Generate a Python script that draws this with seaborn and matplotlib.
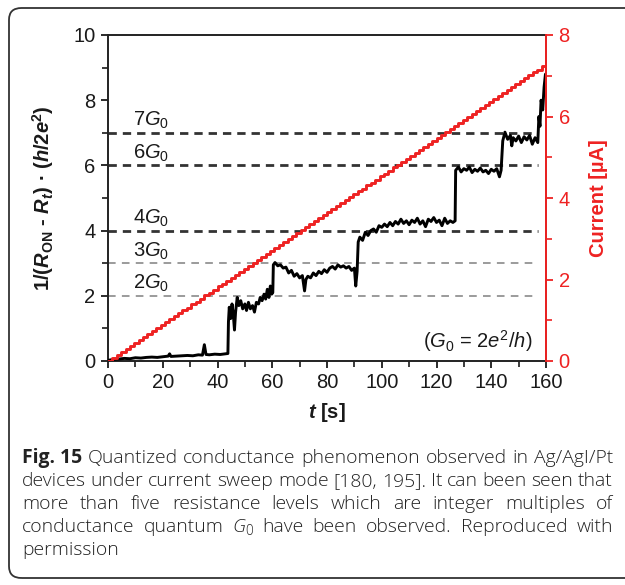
import numpy as np
import pandas as pd
import matplotlib
matplotlib.use("Agg")
import matplotlib.pyplot as plt
import seaborn as sns
from matplotlib.patches import FancyBboxPatch
from matplotlib.ticker import MultipleLocator

# ---------------- data ----------------
time_s = [0, 2, 4, 6, 8, 10, 12, 14, 16, 18, 20, 22, 22.5, 23, 25, 27, 29, 31, 33, 34.5,
          35.2, 35.8, 37, 39, 41, 43, 43.8, 44.0, 44.3, 44.8, 45.3, 45.8, 46.2, 46.6, 47.2,
          47.8, 48.5, 49.2, 50, 50.6, 51.3, 52, 52.8, 53.5, 54.2, 55, 55.6, 56.3, 57, 57.6,
          58.2, 58.8, 59.3, 59.8, 60.2, 60.4, 61, 62, 63, 64, 65, 66, 67, 68, 69, 70, 71,
          71.8, 72.3, 73, 74, 75, 76, 77, 78, 79, 80, 81, 82, 83, 84, 85, 86, 87, 88, 89,
          90, 90.5, 91, 91.4, 92, 93, 94, 95, 96, 97, 98, 99, 100, 101, 102, 103, 104, 105,
          106, 107, 108, 109, 110, 111, 112, 113, 114, 115, 116, 117, 118, 119, 120, 121,
          122, 123, 124, 125, 126, 126.8, 127.0, 128, 129, 130, 131, 132, 133, 134, 135,
          136, 137, 138, 139, 140, 141, 142, 143, 143.6, 144.2, 145, 146, 147, 147.5, 148,
          149, 150, 151, 152, 153, 154, 155, 156, 157, 157.4, 157.8, 158.2, 158.8, 159.3,
          159.8]
conductance = [0.02, 0.05, 0.06, 0.08, 0.07, 0.10, 0.09, 0.11, 0.12, 0.11, 0.13, 0.15, 0.22,
               0.14, 0.15, 0.16, 0.17, 0.16, 0.19, 0.18, 0.50, 0.20, 0.19, 0.21, 0.20, 0.22,
               0.23, 1.20, 1.65, 1.30, 1.75, 1.40, 0.95, 1.50, 1.95, 1.70, 1.85, 1.60, 1.75,
               1.55, 1.80, 1.60, 1.70, 1.50, 1.80, 1.75, 1.95, 1.85, 2.05, 1.90, 2.20, 1.95,
               2.30, 2.05, 2.10, 2.95, 3.02, 2.92, 2.95, 2.85, 2.88, 2.70, 2.78, 2.60, 2.68,
               2.55, 2.62, 2.15, 2.50, 2.60, 2.55, 2.70, 2.62, 2.75, 2.68, 2.80, 2.72, 2.85,
               2.90, 2.82, 2.95, 2.88, 2.92, 2.85, 2.90, 2.78, 2.85, 2.30, 2.75, 3.65, 3.80,
               3.70, 3.95, 3.85, 4.00, 4.05, 3.95, 4.15, 4.10, 4.20, 4.12, 4.25, 4.15, 4.28,
               4.20, 4.35, 4.22, 4.30, 4.18, 4.32, 4.25, 4.38, 4.20, 4.30, 4.12, 4.35, 4.28,
               4.40, 4.25, 4.32, 4.15, 4.38, 4.22, 4.30, 4.25, 4.30, 5.85, 5.95, 5.80, 5.90,
               5.85, 5.95, 5.78, 5.88, 5.82, 5.92, 5.80, 5.85, 5.75, 5.88, 5.82, 5.90, 5.65,
               5.85, 6.75, 7.02, 6.80, 6.92, 6.60, 6.85, 6.75, 6.90, 6.70, 6.88, 6.78, 6.92,
               6.65, 6.85, 6.70, 7.50, 7.20, 8.00, 7.70, 8.40, 8.80]

current_uA = [0.00, 0.07, 0.15, 0.22, 0.29, 0.37, 0.44, 0.51, 0.58, 0.66, 0.73, 0.80, 0.88,
              0.95, 1.02, 1.10, 1.17, 1.24, 1.31, 1.39, 1.46, 1.53, 1.61, 1.68, 1.75, 1.83,
              1.90, 1.97, 2.04, 2.12, 2.19, 2.26, 2.34, 2.41, 2.48, 2.56, 2.63, 2.70, 2.77,
              2.85, 2.92, 2.99, 3.07, 3.14, 3.21, 3.29, 3.36, 3.43, 3.50, 3.58, 3.65, 3.72,
              3.80, 3.87, 3.94, 4.02, 4.09, 4.16, 4.23, 4.31, 4.38, 4.45, 4.53, 4.60, 4.67,
              4.75, 4.82, 4.89, 4.96, 5.04, 5.11, 5.18, 5.26, 5.33, 5.40, 5.48, 5.55, 5.62,
              5.69, 5.77, 5.84, 5.91, 5.99, 6.06, 6.13, 6.21, 6.28, 6.35, 6.42, 6.50, 6.57,
              6.64, 6.72, 6.79, 6.86, 6.94, 7.01, 7.08, 7.15, 7.23, 7.30]
step_duration_s = 1.6

level_values = [7, 6, 4, 3, 2]
level_labels = [r"$7\mathit{G}_{0}$", r"$6\mathit{G}_{0}$", r"$4\mathit{G}_{0}$",
                r"$3\mathit{G}_{0}$", r"$2\mathit{G}_{0}$"]
level_strong = [True, True, True, False, False]

caption_lines = [
    [("Fig. 15", "bold"), "Quantized", "conductance", "phenomenon", "observed", "in", "Ag/AgI/Pt"],
    ["devices", "under", "current", "sweep", "mode", "[180,", "195].", "It", "can", "been", "seen", "that"],
    ["more", "than", "five", "resistance", "levels", "which", "are", "integer", "multiples", "of"],
    ["conductance", "quantum", ("G0", "g0"), "have", "been", "observed.", "Reproduced", "with"],
    ["permission"],
]

# ---------------- style ----------------
sns.set_style("ticks")
plt.rcParams["font.family"] = ["Liberation Sans", "DejaVu Sans"]
plt.rcParams["mathtext.fontset"] = "custom"
plt.rcParams["mathtext.rm"] = "Liberation Sans"
plt.rcParams["mathtext.it"] = "Liberation Sans:italic"
plt.rcParams["mathtext.bf"] = "Liberation Sans:bold"
plt.rcParams["mathtext.bfit"] = "Liberation Sans:italic:bold"
plt.rcParams["mathtext.sf"] = "Liberation Sans"
plt.rcParams["lines.scale_dashes"] = False

W, H = 625, 585
RED = "#ee2222"
INK = "#1a1a1a"
FS = 14.5
fig = plt.figure(figsize=(W / 100, H / 100), dpi=100)
ax_l, ax_r, ax_t, ax_b = 108, 546, 35, 361
ax = fig.add_axes([ax_l / W, 1 - ax_b / H, (ax_r - ax_l) / W, (ax_b - ax_t) / H])

df_g = pd.DataFrame({"t": time_s, "G": conductance})
t_sweep = np.arange(len(current_uA)) * step_duration_s
df_i = pd.DataFrame({"t": t_sweep, "I": current_uA})

# reference levels
for val, lab, strong in zip(level_values, level_labels, level_strong):
    if strong:
        ax.hlines(val, 0, 157, colors="#333333", linewidth=2.0, linestyles=(0, (6.0, 4.3)), zorder=1)
    else:
        ax.hlines(val, 0, 157, colors="#8a8a8a", linewidth=1.2, linestyles=(0, (5.5, 4.5)), zorder=1)
    ax.text(9.0, val + 0.04, lab, fontsize=FS, color=INK, ha="left", va="bottom")

sns.lineplot(data=df_g, x="t", y="G", ax=ax, color="black", linewidth=2.1,
             estimator=None, sort=False, zorder=3)

ax.set_xlim(0, 160)
ax.set_ylim(0, 10)
ax.xaxis.set_major_locator(MultipleLocator(20))
ax.xaxis.set_minor_locator(MultipleLocator(10))
ax.yaxis.set_major_locator(MultipleLocator(2))
ax.yaxis.set_minor_locator(MultipleLocator(1))
ax.tick_params(axis="both", which="major", direction="out", length=5, width=1.3,
               labelsize=FS, colors=INK, pad=4)
ax.tick_params(axis="both", which="minor", direction="out", length=4, width=1.2, colors=INK)
for s in ax.spines.values():
    s.set_linewidth(1.4)
    s.set_color("#222222")

ax.set_xlabel(r"$\mathbfit{t}$ [s]", fontsize=FS, fontweight="bold", color=INK)
ax.set_ylabel(r"1/($\mathbfit{R}_{\mathbf{ON}}$ - $\mathbfit{R}_{\mathbfit{t}}$) · ($\mathbfit{h}$/2$\mathbfit{e}^{\mathbf{2}}$)",
              fontsize=FS, fontweight="bold", color=INK)
ax.xaxis.set_label_coords(0.5, -0.122)
ax.yaxis.set_label_coords(-0.118, 0.5)

ax.text(155, 0.62, r"($\mathit{G}_{\mathit{0}}$ = 2$\mathit{e}^{2}$/$\mathit{h}$)", fontsize=FS,
        color=INK, ha="right", va="center")

# current axis
ax2 = ax.twinx()
sns.lineplot(data=df_i, x="t", y="I", ax=ax2, color=RED, linewidth=2.1,
             estimator=None, sort=False, drawstyle="steps-post", zorder=4)
ax2.set_ylim(0, 8)
ax2.set_xlim(0, 160)
ax2.yaxis.set_major_locator(MultipleLocator(2))
ax2.yaxis.set_minor_locator(MultipleLocator(1))
ax2.tick_params(axis="y", which="major", direction="out", length=5, width=1.3,
                labelsize=FS, colors=RED, pad=4)
ax2.tick_params(axis="y", which="minor", direction="out", length=4, width=1.2, colors=RED)
ax2.spines["right"].set_color(RED)
ax2.spines["right"].set_linewidth(1.4)
ax2.spines["left"].set_visible(False)
ax2.spines["top"].set_visible(False)
ax2.spines["bottom"].set_visible(False)
ax2.set_ylabel("Current [µA]", fontsize=FS, fontweight="bold", color=RED)
ax2.yaxis.set_label_coords(1.098, 0.5)

# ---------------- caption box ----------------
box = FancyBboxPatch((9 / W, 1 - 578 / H), 1.2, (578 - 8) / H,
                     boxstyle="round,pad=0,rounding_size=0.02", transform=fig.transFigure,
                     facecolor="none", edgecolor="#333333", linewidth=1.3, clip_on=False)
fig.patches.append(box)

renderer = fig.canvas.get_renderer()
cap_font = ["Open Sans", "DejaVu Sans"]
CAP_W = 300


def measure(s, **kw):
    kw.setdefault("fontweight", CAP_W)
    t = fig.text(0, 0, s, family=cap_font, **kw)
    w = t.get_window_extent(renderer).width
    t.remove()
    return w


def word_parts(word, fs):
    if isinstance(word, tuple):
        txt, kind = word
        if kind == "bold":
            return [(txt, dict(fontsize=fs, fontweight="bold"), 0)]
        if kind == "g0":
            return [("G", dict(fontsize=fs, style="italic"), 0),
                    ("0", dict(fontsize=fs * 0.7), -3)]
    return [(word, dict(fontsize=fs), 0)]


def word_width(word, fs):
    return sum(measure(p, **dict(kw)) for p, kw, _ in word_parts(word, fs))


x0, x1 = 22, 613
cap_fs = 12.2
natural = sum(word_width(w, cap_fs) for w in caption_lines[0]) + \
    (len(caption_lines[0]) - 1) * (measure("a a", fontsize=cap_fs) - measure("aa", fontsize=cap_fs))
cap_fs = cap_fs * (x1 - x0) / natural * 0.99
space = measure("a a", fontsize=cap_fs) - measure("aa", fontsize=cap_fs)

baselines = [463, 486, 509, 532, 555]
for li, (words, yb) in enumerate(zip(caption_lines, baselines)):
    widths = [word_width(w, cap_fs) for w in words]
    justify = li < len(caption_lines) - 1
    if justify and len(words) > 1:
        gap = (x1 - x0 - sum(widths)) / (len(words) - 1)
    else:
        gap = space
    x = x0
    for w, wd in zip(words, widths):
        xx = x
        for p, kw, dy in word_parts(w, cap_fs):
            kw = dict(kw)
            kw.setdefault("fontweight", CAP_W)
            fig.text(xx / W, 1 - (yb - dy) / H, p, family=cap_font, color="#222222",
                     ha="left", va="baseline", **kw)
            xx += measure(p, **dict(kw))
        x += wd + gap

fig.savefig("out.png", dpi=100)
